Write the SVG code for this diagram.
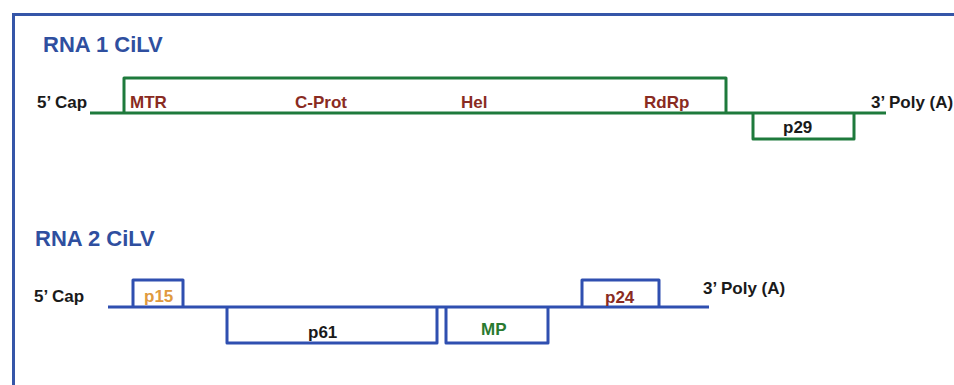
<svg xmlns="http://www.w3.org/2000/svg" width="954" height="385" viewBox="0 0 954 385">
<style>
.t{font-family:"Liberation Sans",Arial,sans-serif;font-weight:bold}
.title{font-size:22px;fill:#2f4f9f}
.lab{font-size:17px;fill:#1a1a1a}
.red{fill:#8a2b22}
.org{fill:#e09a3e}
.grn{fill:#2a7a30}
.g{fill:none;stroke:#1e7a3c;stroke-width:3;stroke-linejoin:round}
.b{fill:none;stroke:#2f4fb0;stroke-width:3;stroke-linejoin:round}
</style>
<rect width="954" height="385" fill="#fff"/>
<path d="M13.5,390 V14.5 H960" fill="none" stroke="#3556a8" stroke-width="3"/>
<g id="rna1">
<text class="t title" x="43" y="52">RNA 1 CiLV</text>
<text class="t lab" x="37" y="108">5’ Cap</text>
<text class="t lab" x="871" y="108">3’ Poly (A)</text>
</g>
<g id="connectors">
<path class="g" d="M90,113 H886"/>
<path class="b" d="M108,307 H709"/>
</g>
<g id="orf1"><path class="g" d="M124,113 V78 H726 V113"/>
<text class="t lab red" x="130" y="108">MTR</text>
<text class="t lab red" x="295" y="108">C-Prot</text>
<text class="t lab red" x="461" y="108">Hel</text>
<text class="t lab red" x="644" y="108">RdRp</text>
</g>
<g id="p29"><path class="g" d="M753,113 V139 H854 V113"/>
<text class="t lab" x="783" y="133">p29</text></g>
<g id="rna2">
<text class="t title" x="35" y="246">RNA 2 CiLV</text>
<text class="t lab" x="34" y="302">5’ Cap</text>
<text class="t lab" x="703" y="294">3’ Poly (A)</text>
</g>
<g id="p15"><path class="b" d="M133,307 V280 H183 V307"/>
<text class="t lab org" x="144" y="302">p15</text></g>
<g id="p61"><path class="b" d="M227,307 V343 H437 V307"/>
<text class="t lab" x="308" y="338">p61</text></g>
<g id="mp"><path class="b" d="M446,307 V343 H548 V307"/>
<text class="t lab grn" x="481" y="335">MP</text></g>
<g id="p24"><path class="b" d="M582,307 V280 H659 V307"/>
<text class="t lab red" x="605" y="303">p24</text></g>
</svg>
